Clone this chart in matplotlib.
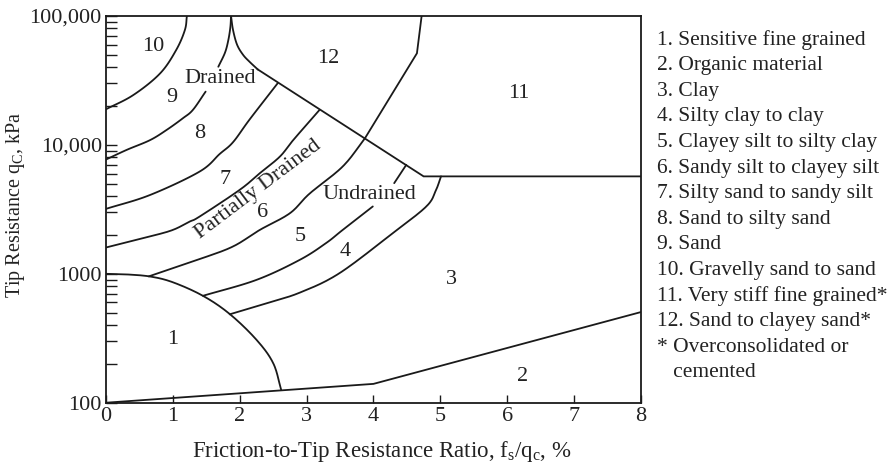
import numpy as np
import matplotlib
matplotlib.use("Agg")
import matplotlib.pyplot as plt
from matplotlib.ticker import FixedLocator, LogLocator, NullFormatter

plt.rcParams['font.family'] = ['Liberation Serif', 'DejaVu Serif']
plt.rcParams['mathtext.fontset'] = 'custom'
plt.rcParams['mathtext.rm'] = 'Liberation Serif'
plt.rcParams['mathtext.it'] = 'Liberation Serif:italic'

# boundaries, friction ratio (%) vs tip resistance qc (kPa)
zone1_x = [0, 0.3, 0.66, 1.0, 1.45, 1.85, 2.25, 2.5, 2.62]
zone1_q = [1000, 990, 953, 860, 675, 488, 308, 203, 126]

zone2_x = [0, 4, 8]
zone2_q = [100, 140, 505]

b10_9_x = [0, 0.41, 0.81, 1.05, 1.18, 1.21]
b10_9_q = [18900, 24400, 35900, 54500, 77900, 100000]

b9_8a_x = [0, 0.31, 0.66, 0.91, 1.15, 1.30, 1.49]
b9_8a_q = [7700, 9150, 10900, 13100, 16100, 18700, 25900]
b9_8b_x = [1.68, 1.78, 1.83, 1.86, 1.87]
b9_8b_q = [40400, 52000, 65200, 82000, 100000]

b12_cusp_x = [1.87, 1.90, 1.96, 2.05, 2.15, 2.27]
b12_cusp_q = [100000, 78000, 60000, 50000, 44000, 38500]
b12_x = [2.27, 4.75, 8]
b12_q = [38500, 5700, 5700]

b8_7_x = [0, 0.66, 1.40, 1.70, 1.90, 2.15, 2.57]
b8_7_q = [3190, 4090, 6210, 8500, 10500, 15800, 30200]

b7_6_x = [0, 0.66, 1.0, 1.25, 1.40, 2.0, 2.30, 2.60, 2.80, 3.19]
b7_6_q = [1600, 1950, 2190, 2540, 2780, 4480, 6030, 8110, 10900, 18600]

b6_5_x = [0.64, 1.40, 1.90, 2.30, 2.75, 3.04, 3.54, 3.87]
b6_5_q = [955, 1300, 1630, 2190, 2950, 4170, 6800, 11200]
b11_12_x = [3.87, 4.65, 4.72]
b11_12_q = [11200, 51400, 100000]

b5_4a_x = [1.45, 2.25, 2.90, 3.29, 3.54, 3.99]
b5_4a_q = [675, 897, 1285, 1730, 2190, 3330]
b5_4b_x = [4.31, 4.49]
b5_4b_q = [5050, 7000]

b4_3_x = [1.85, 2.40, 2.90, 3.49, 4.29, 4.79, 4.93, 5.01]
b4_3_q = [485, 590, 715, 1010, 2070, 3330, 4400, 5700]

zone_nums = ['1', '2', '3', '4', '5', '6', '7', '8', '9', '10', '11', '12']
zone_x = [1.0, 6.23, 5.16, 3.57, 2.90, 2.34, 1.78, 1.40, 0.99, 0.70, 6.18, 3.32]
zone_q = [308, 160, 900, 1490, 1950, 2970, 5360, 12200, 23500, 58500, 25200, 47000]

legend_lines = [
    '1. Sensitive fine grained',
    '2. Organic material',
    '3. Clay',
    '4. Silty clay to clay',
    '5. Clayey silt to silty clay',
    '6. Sandy silt to clayey silt',
    '7. Silty sand to sandy silt',
    '8. Sand to silty sand',
    '9. Sand',
    '10. Gravelly sand to sand',
    '11. Very stiff fine grained*',
    '12. Sand to clayey sand*',
    '* Overconsolidated or',
    '   cemented',
]


def smooth(xs, qs, n=20):
    # catmull-rom through the read points, in (x, log q) space
    p = np.column_stack([np.asarray(xs, float) * 67.0,
                         np.log10(np.asarray(qs, float)) * 129.0])
    if len(p) < 3:
        return xs, qs
    p = np.vstack([2 * p[0] - p[1], p, 2 * p[-1] - p[-2]])
    out = []
    for i in range(1, len(p) - 2):
        p0, p1, p2, p3 = p[i - 1], p[i], p[i + 1], p[i + 2]
        t = np.linspace(0, 1, n, endpoint=False)[:, None]
        seg = 0.5 * ((2 * p1) + (-p0 + p2) * t + (2 * p0 - 5 * p1 + 4 * p2 - p3) * t ** 2
                     + (-p0 + 3 * p1 - 3 * p2 + p3) * t ** 3)
        out.append(seg)
    out.append(p[-2][None, :])
    out = np.vstack(out)
    return out[:, 0] / 67.0, 10 ** (out[:, 1] / 129.0)


fig = plt.figure(figsize=(8.89, 4.68), dpi=100)
ax = fig.add_axes([0.1192, 0.1395, 0.7210 - 0.1192, 0.9658 - 0.1395])
ax.set_yscale('log')
ax.set_xlim(0, 8)
ax.set_ylim(100, 100000)

ink = '#1a1a1a'
lw = 1.3
curved = [(zone1_x, zone1_q), (b10_9_x, b10_9_q), (b9_8a_x, b9_8a_q),
          (b9_8b_x, b9_8b_q), (b12_cusp_x, b12_cusp_q), (b8_7_x, b8_7_q),
          (b7_6_x, b7_6_q), (b6_5_x, b6_5_q), (b5_4a_x, b5_4a_q),
          (b5_4b_x, b5_4b_q), (b4_3_x, b4_3_q)]
for xs, qs in curved:
    sx, sq = smooth(xs, qs)
    ax.plot(sx, sq, color=ink, lw=lw, solid_capstyle='round')
for xs, qs in [(zone2_x, zone2_q), (b12_x, b12_q), (b11_12_x, b11_12_q)]:
    ax.plot(xs, qs, color=ink, lw=lw, solid_joinstyle='miter')

fs = 16
txt = '#222222'
for t, x, q in zip(zone_nums, zone_x, zone_q):
    ax.text(x, q, t, ha='center', va='center', fontsize=fs, color=txt)

ax.text(1.70, 32900, 'Drained', ha='center', va='center', fontsize=fs, color=txt)
ax.text(3.94, 4090, 'Undrained', ha='center', va='center', fontsize=fs, color=txt)
ax.text(2.27, 4480, 'Partially Drained', ha='center', va='center', fontsize=fs,
        rotation=37, color=txt)

ax.xaxis.set_major_locator(FixedLocator(range(0, 9)))
ax.yaxis.set_major_locator(FixedLocator([100, 1000, 10000, 100000]))
ax.yaxis.set_minor_locator(LogLocator(base=10, subs=np.arange(2, 10)))
ax.yaxis.set_minor_formatter(NullFormatter())
ax.set_yticklabels(['100', '1000', '10,000', '100,000'])
ax.tick_params(axis='both', which='both', direction='in', labelsize=fs,
               colors=ink, width=1.0, labelcolor=txt)
ax.tick_params(axis='x', which='major', length=6, pad=3)
ax.tick_params(axis='y', which='major', length=8, pad=3)
ax.tick_params(axis='y', which='minor', length=8)
for s in ax.spines.values():
    s.set_linewidth(1.3)
    s.set_color(ink)

fig.text(382 / 889, 1 - 452 / 468,
         r'Friction-to-Tip Resistance Ratio, f$_\mathrm{s}$/q$_\mathrm{c}$, %',
         ha='center', va='center', fontsize=16.5, color=txt)
fig.text(16 / 889, 1 - 205 / 468, r'Tip Resistance q$_\mathrm{C}$, kPa',
         ha='center', va='center', rotation=90, fontsize=14.5, color=txt)

for i, line in enumerate(legend_lines):
    fig.text(657 / 889, 1 - (40 + i * 25.6) / 468, line, ha='left', va='center',
             fontsize=15.5, color=txt)

fig.savefig('out.png', dpi=100)
